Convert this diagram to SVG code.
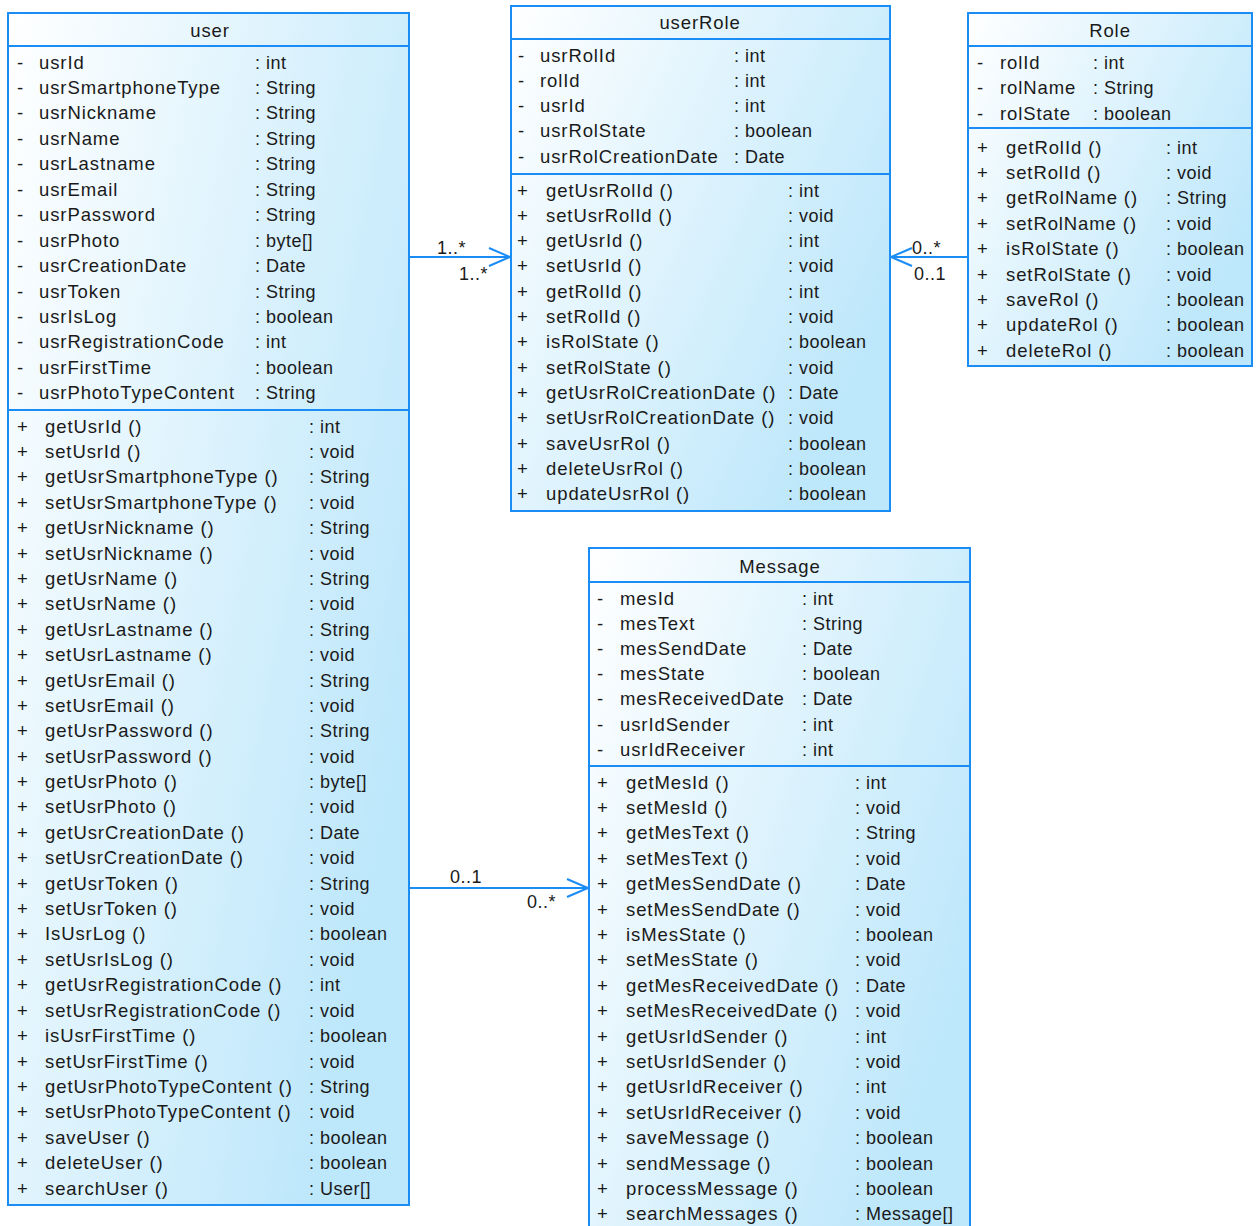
<svg xmlns="http://www.w3.org/2000/svg" width="1257" height="1226" viewBox="0 0 1257 1226">
<style>
.box{fill:url(#g);stroke:#1a8cf5;stroke-width:2}
.sep{stroke:#1a8cf5;stroke-width:2}
.t{font-family:"Liberation Sans",Arial,sans-serif;font-size:18.5px;fill:#1a1a1a;letter-spacing:0.9px}
.y{font-family:"Liberation Sans",Arial,sans-serif;font-size:18px;fill:#1a1a1a;letter-spacing:0.5px}
.h{font-family:"Liberation Sans",Arial,sans-serif;font-size:18.5px;fill:#1a1a1a;letter-spacing:0.9px;text-anchor:middle}
.c{stroke:#1a8cf5;stroke-width:2;fill:none}
</style>
<defs>
<linearGradient id="g" x1="0" y1="0" x2="1" y2="0.6">
<stop offset="0" stop-color="#ffffff"/>
<stop offset="1" stop-color="#bde7fb"/>
</linearGradient>
</defs>
<g id="connectors">
<path class="c" d="M409,257 H510 M489,248 L510,257 L489,266"/>
<text class="y" x="437" y="254">1..*</text>
<text class="y" x="459" y="280">1..*</text>
<path class="c" d="M968,257 H891 M912,248 L891,257 L912,266"/>
<text class="y" x="912" y="254">0..*</text>
<text class="y" x="914" y="280">0..1</text>
<path class="c" d="M409,888 H588 M567,879 L588,888 L567,897"/>
<text class="y" x="450" y="883">0..1</text>
<text class="y" x="527" y="908">0..*</text>
</g>
<g id="user">
<rect class="box" x="8" y="13" width="401" height="1192"/>
<line class="sep" x1="8" y1="46" x2="409" y2="46"/>
<line class="sep" x1="8" y1="410" x2="409" y2="410"/>
<text class="h" x="210" y="36.5">user</text>
<text class="t" y="68.5"><tspan x="17">-</tspan><tspan x="17" dy="25.45">-</tspan><tspan x="17" dy="25.45">-</tspan><tspan x="17" dy="25.45">-</tspan><tspan x="17" dy="25.45">-</tspan><tspan x="17" dy="25.45">-</tspan><tspan x="17" dy="25.45">-</tspan><tspan x="17" dy="25.45">-</tspan><tspan x="17" dy="25.45">-</tspan><tspan x="17" dy="25.45">-</tspan><tspan x="17" dy="25.45">-</tspan><tspan x="17" dy="25.45">-</tspan><tspan x="17" dy="25.45">-</tspan><tspan x="17" dy="25.45">-</tspan></text>
<text class="t" y="68.5"><tspan x="39">usrId</tspan><tspan x="39" dy="25.45">usrSmartphoneType</tspan><tspan x="39" dy="25.45">usrNickname</tspan><tspan x="39" dy="25.45">usrName</tspan><tspan x="39" dy="25.45">usrLastname</tspan><tspan x="39" dy="25.45">usrEmail</tspan><tspan x="39" dy="25.45">usrPassword</tspan><tspan x="39" dy="25.45">usrPhoto</tspan><tspan x="39" dy="25.45">usrCreationDate</tspan><tspan x="39" dy="25.45">usrToken</tspan><tspan x="39" dy="25.45">usrIsLog</tspan><tspan x="39" dy="25.45">usrRegistrationCode</tspan><tspan x="39" dy="25.45">usrFirstTime</tspan><tspan x="39" dy="25.45">usrPhotoTypeContent</tspan></text>
<text class="y" y="68.5"><tspan x="255">: int</tspan><tspan x="255" dy="25.45">: String</tspan><tspan x="255" dy="25.45">: String</tspan><tspan x="255" dy="25.45">: String</tspan><tspan x="255" dy="25.45">: String</tspan><tspan x="255" dy="25.45">: String</tspan><tspan x="255" dy="25.45">: String</tspan><tspan x="255" dy="25.45">: byte[]</tspan><tspan x="255" dy="25.45">: Date</tspan><tspan x="255" dy="25.45">: String</tspan><tspan x="255" dy="25.45">: boolean</tspan><tspan x="255" dy="25.45">: int</tspan><tspan x="255" dy="25.45">: boolean</tspan><tspan x="255" dy="25.45">: String</tspan></text>
<text class="t" y="432.5"><tspan x="17">+</tspan><tspan x="17" dy="25.4">+</tspan><tspan x="17" dy="25.4">+</tspan><tspan x="17" dy="25.4">+</tspan><tspan x="17" dy="25.4">+</tspan><tspan x="17" dy="25.4">+</tspan><tspan x="17" dy="25.4">+</tspan><tspan x="17" dy="25.4">+</tspan><tspan x="17" dy="25.4">+</tspan><tspan x="17" dy="25.4">+</tspan><tspan x="17" dy="25.4">+</tspan><tspan x="17" dy="25.4">+</tspan><tspan x="17" dy="25.4">+</tspan><tspan x="17" dy="25.4">+</tspan><tspan x="17" dy="25.4">+</tspan><tspan x="17" dy="25.4">+</tspan><tspan x="17" dy="25.4">+</tspan><tspan x="17" dy="25.4">+</tspan><tspan x="17" dy="25.4">+</tspan><tspan x="17" dy="25.4">+</tspan><tspan x="17" dy="25.4">+</tspan><tspan x="17" dy="25.4">+</tspan><tspan x="17" dy="25.4">+</tspan><tspan x="17" dy="25.4">+</tspan><tspan x="17" dy="25.4">+</tspan><tspan x="17" dy="25.4">+</tspan><tspan x="17" dy="25.4">+</tspan><tspan x="17" dy="25.4">+</tspan><tspan x="17" dy="25.4">+</tspan><tspan x="17" dy="25.4">+</tspan><tspan x="17" dy="25.4">+</tspan></text>
<text class="t" y="432.5"><tspan x="45">getUsrId ()</tspan><tspan x="45" dy="25.4">setUsrId ()</tspan><tspan x="45" dy="25.4">getUsrSmartphoneType ()</tspan><tspan x="45" dy="25.4">setUsrSmartphoneType ()</tspan><tspan x="45" dy="25.4">getUsrNickname ()</tspan><tspan x="45" dy="25.4">setUsrNickname ()</tspan><tspan x="45" dy="25.4">getUsrName ()</tspan><tspan x="45" dy="25.4">setUsrName ()</tspan><tspan x="45" dy="25.4">getUsrLastname ()</tspan><tspan x="45" dy="25.4">setUsrLastname ()</tspan><tspan x="45" dy="25.4">getUsrEmail ()</tspan><tspan x="45" dy="25.4">setUsrEmail ()</tspan><tspan x="45" dy="25.4">getUsrPassword ()</tspan><tspan x="45" dy="25.4">setUsrPassword ()</tspan><tspan x="45" dy="25.4">getUsrPhoto ()</tspan><tspan x="45" dy="25.4">setUsrPhoto ()</tspan><tspan x="45" dy="25.4">getUsrCreationDate ()</tspan><tspan x="45" dy="25.4">setUsrCreationDate ()</tspan><tspan x="45" dy="25.4">getUsrToken ()</tspan><tspan x="45" dy="25.4">setUsrToken ()</tspan><tspan x="45" dy="25.4">IsUsrLog ()</tspan><tspan x="45" dy="25.4">setUsrIsLog ()</tspan><tspan x="45" dy="25.4">getUsrRegistrationCode ()</tspan><tspan x="45" dy="25.4">setUsrRegistrationCode ()</tspan><tspan x="45" dy="25.4">isUsrFirstTime ()</tspan><tspan x="45" dy="25.4">setUsrFirstTime ()</tspan><tspan x="45" dy="25.4">getUsrPhotoTypeContent ()</tspan><tspan x="45" dy="25.4">setUsrPhotoTypeContent ()</tspan><tspan x="45" dy="25.4">saveUser ()</tspan><tspan x="45" dy="25.4">deleteUser ()</tspan><tspan x="45" dy="25.4">searchUser ()</tspan></text>
<text class="y" y="432.5"><tspan x="309">: int</tspan><tspan x="309" dy="25.4">: void</tspan><tspan x="309" dy="25.4">: String</tspan><tspan x="309" dy="25.4">: void</tspan><tspan x="309" dy="25.4">: String</tspan><tspan x="309" dy="25.4">: void</tspan><tspan x="309" dy="25.4">: String</tspan><tspan x="309" dy="25.4">: void</tspan><tspan x="309" dy="25.4">: String</tspan><tspan x="309" dy="25.4">: void</tspan><tspan x="309" dy="25.4">: String</tspan><tspan x="309" dy="25.4">: void</tspan><tspan x="309" dy="25.4">: String</tspan><tspan x="309" dy="25.4">: void</tspan><tspan x="309" dy="25.4">: byte[]</tspan><tspan x="309" dy="25.4">: void</tspan><tspan x="309" dy="25.4">: Date</tspan><tspan x="309" dy="25.4">: void</tspan><tspan x="309" dy="25.4">: String</tspan><tspan x="309" dy="25.4">: void</tspan><tspan x="309" dy="25.4">: boolean</tspan><tspan x="309" dy="25.4">: void</tspan><tspan x="309" dy="25.4">: int</tspan><tspan x="309" dy="25.4">: void</tspan><tspan x="309" dy="25.4">: boolean</tspan><tspan x="309" dy="25.4">: void</tspan><tspan x="309" dy="25.4">: String</tspan><tspan x="309" dy="25.4">: void</tspan><tspan x="309" dy="25.4">: boolean</tspan><tspan x="309" dy="25.4">: boolean</tspan><tspan x="309" dy="25.4">: User[]</tspan></text>
</g>
<g id="userRole">
<rect class="box" x="511" y="6" width="379" height="505"/>
<line class="sep" x1="511" y1="39" x2="890" y2="39"/>
<line class="sep" x1="511" y1="174" x2="890" y2="174"/>
<text class="h" x="700" y="28.5">userRole</text>
<text class="t" y="61.5"><tspan x="518">-</tspan><tspan x="518" dy="25.25">-</tspan><tspan x="518" dy="25.25">-</tspan><tspan x="518" dy="25.25">-</tspan><tspan x="518" dy="25.25">-</tspan></text>
<text class="t" y="61.5"><tspan x="540">usrRolId</tspan><tspan x="540" dy="25.25">rolId</tspan><tspan x="540" dy="25.25">usrId</tspan><tspan x="540" dy="25.25">usrRolState</tspan><tspan x="540" dy="25.25">usrRolCreationDate</tspan></text>
<text class="y" y="61.5"><tspan x="734">: int</tspan><tspan x="734" dy="25.25">: int</tspan><tspan x="734" dy="25.25">: int</tspan><tspan x="734" dy="25.25">: boolean</tspan><tspan x="734" dy="25.25">: Date</tspan></text>
<text class="t" y="196.5"><tspan x="517">+</tspan><tspan x="517" dy="25.33">+</tspan><tspan x="517" dy="25.33">+</tspan><tspan x="517" dy="25.33">+</tspan><tspan x="517" dy="25.33">+</tspan><tspan x="517" dy="25.33">+</tspan><tspan x="517" dy="25.33">+</tspan><tspan x="517" dy="25.33">+</tspan><tspan x="517" dy="25.33">+</tspan><tspan x="517" dy="25.33">+</tspan><tspan x="517" dy="25.33">+</tspan><tspan x="517" dy="25.33">+</tspan><tspan x="517" dy="25.33">+</tspan></text>
<text class="t" y="196.5"><tspan x="546">getUsrRolId ()</tspan><tspan x="546" dy="25.33">setUsrRolId ()</tspan><tspan x="546" dy="25.33">getUsrId ()</tspan><tspan x="546" dy="25.33">setUsrId ()</tspan><tspan x="546" dy="25.33">getRolId ()</tspan><tspan x="546" dy="25.33">setRolId ()</tspan><tspan x="546" dy="25.33">isRolState ()</tspan><tspan x="546" dy="25.33">setRolState ()</tspan><tspan x="546" dy="25.33">getUsrRolCreationDate ()</tspan><tspan x="546" dy="25.33">setUsrRolCreationDate ()</tspan><tspan x="546" dy="25.33">saveUsrRol ()</tspan><tspan x="546" dy="25.33">deleteUsrRol ()</tspan><tspan x="546" dy="25.33">updateUsrRol ()</tspan></text>
<text class="y" y="196.5"><tspan x="788">: int</tspan><tspan x="788" dy="25.33">: void</tspan><tspan x="788" dy="25.33">: int</tspan><tspan x="788" dy="25.33">: void</tspan><tspan x="788" dy="25.33">: int</tspan><tspan x="788" dy="25.33">: void</tspan><tspan x="788" dy="25.33">: boolean</tspan><tspan x="788" dy="25.33">: void</tspan><tspan x="788" dy="25.33">: Date</tspan><tspan x="788" dy="25.33">: void</tspan><tspan x="788" dy="25.33">: boolean</tspan><tspan x="788" dy="25.33">: boolean</tspan><tspan x="788" dy="25.33">: boolean</tspan></text>
</g>
<g id="Role">
<rect class="box" x="968" y="13" width="284" height="353"/>
<line class="sep" x1="968" y1="46" x2="1252" y2="46"/>
<line class="sep" x1="968" y1="128" x2="1252" y2="128"/>
<text class="h" x="1110" y="36.5">Role</text>
<text class="t" y="68.5"><tspan x="977">-</tspan><tspan x="977" dy="25.5">-</tspan><tspan x="977" dy="25.5">-</tspan></text>
<text class="t" y="68.5"><tspan x="1000">rolId</tspan><tspan x="1000" dy="25.5">rolName</tspan><tspan x="1000" dy="25.5">rolState</tspan></text>
<text class="y" y="68.5"><tspan x="1093">: int</tspan><tspan x="1093" dy="25.5">: String</tspan><tspan x="1093" dy="25.5">: boolean</tspan></text>
<text class="t" y="153.5"><tspan x="977">+</tspan><tspan x="977" dy="25.4">+</tspan><tspan x="977" dy="25.4">+</tspan><tspan x="977" dy="25.4">+</tspan><tspan x="977" dy="25.4">+</tspan><tspan x="977" dy="25.4">+</tspan><tspan x="977" dy="25.4">+</tspan><tspan x="977" dy="25.4">+</tspan><tspan x="977" dy="25.4">+</tspan></text>
<text class="t" y="153.5"><tspan x="1006">getRolId ()</tspan><tspan x="1006" dy="25.4">setRolId ()</tspan><tspan x="1006" dy="25.4">getRolName ()</tspan><tspan x="1006" dy="25.4">setRolName ()</tspan><tspan x="1006" dy="25.4">isRolState ()</tspan><tspan x="1006" dy="25.4">setRolState ()</tspan><tspan x="1006" dy="25.4">saveRol ()</tspan><tspan x="1006" dy="25.4">updateRol ()</tspan><tspan x="1006" dy="25.4">deleteRol ()</tspan></text>
<text class="y" y="153.5"><tspan x="1166">: int</tspan><tspan x="1166" dy="25.4">: void</tspan><tspan x="1166" dy="25.4">: String</tspan><tspan x="1166" dy="25.4">: void</tspan><tspan x="1166" dy="25.4">: boolean</tspan><tspan x="1166" dy="25.4">: void</tspan><tspan x="1166" dy="25.4">: boolean</tspan><tspan x="1166" dy="25.4">: boolean</tspan><tspan x="1166" dy="25.4">: boolean</tspan></text>
</g>
<g id="Message">
<rect class="box" x="589" y="548" width="381" height="700"/>
<line class="sep" x1="589" y1="582" x2="970" y2="582"/>
<line class="sep" x1="589" y1="766" x2="970" y2="766"/>
<text class="h" x="780" y="572.5">Message</text>
<text class="t" y="604.5"><tspan x="597">-</tspan><tspan x="597" dy="25.2">-</tspan><tspan x="597" dy="25.2">-</tspan><tspan x="597" dy="25.2">-</tspan><tspan x="597" dy="25.2">-</tspan><tspan x="597" dy="25.2">-</tspan><tspan x="597" dy="25.2">-</tspan></text>
<text class="t" y="604.5"><tspan x="620">mesId</tspan><tspan x="620" dy="25.2">mesText</tspan><tspan x="620" dy="25.2">mesSendDate</tspan><tspan x="620" dy="25.2">mesState</tspan><tspan x="620" dy="25.2">mesReceivedDate</tspan><tspan x="620" dy="25.2">usrIdSender</tspan><tspan x="620" dy="25.2">usrIdReceiver</tspan></text>
<text class="y" y="604.5"><tspan x="802">: int</tspan><tspan x="802" dy="25.2">: String</tspan><tspan x="802" dy="25.2">: Date</tspan><tspan x="802" dy="25.2">: boolean</tspan><tspan x="802" dy="25.2">: Date</tspan><tspan x="802" dy="25.2">: int</tspan><tspan x="802" dy="25.2">: int</tspan></text>
<text class="t" y="788.5"><tspan x="597">+</tspan><tspan x="597" dy="25.4">+</tspan><tspan x="597" dy="25.4">+</tspan><tspan x="597" dy="25.4">+</tspan><tspan x="597" dy="25.4">+</tspan><tspan x="597" dy="25.4">+</tspan><tspan x="597" dy="25.4">+</tspan><tspan x="597" dy="25.4">+</tspan><tspan x="597" dy="25.4">+</tspan><tspan x="597" dy="25.4">+</tspan><tspan x="597" dy="25.4">+</tspan><tspan x="597" dy="25.4">+</tspan><tspan x="597" dy="25.4">+</tspan><tspan x="597" dy="25.4">+</tspan><tspan x="597" dy="25.4">+</tspan><tspan x="597" dy="25.4">+</tspan><tspan x="597" dy="25.4">+</tspan><tspan x="597" dy="25.4">+</tspan></text>
<text class="t" y="788.5"><tspan x="626">getMesId ()</tspan><tspan x="626" dy="25.4">setMesId ()</tspan><tspan x="626" dy="25.4">getMesText ()</tspan><tspan x="626" dy="25.4">setMesText ()</tspan><tspan x="626" dy="25.4">getMesSendDate ()</tspan><tspan x="626" dy="25.4">setMesSendDate ()</tspan><tspan x="626" dy="25.4">isMesState ()</tspan><tspan x="626" dy="25.4">setMesState ()</tspan><tspan x="626" dy="25.4">getMesReceivedDate ()</tspan><tspan x="626" dy="25.4">setMesReceivedDate ()</tspan><tspan x="626" dy="25.4">getUsrIdSender ()</tspan><tspan x="626" dy="25.4">setUsrIdSender ()</tspan><tspan x="626" dy="25.4">getUsrIdReceiver ()</tspan><tspan x="626" dy="25.4">setUsrIdReceiver ()</tspan><tspan x="626" dy="25.4">saveMessage ()</tspan><tspan x="626" dy="25.4">sendMessage ()</tspan><tspan x="626" dy="25.4">processMessage ()</tspan><tspan x="626" dy="25.4">searchMessages ()</tspan></text>
<text class="y" y="788.5"><tspan x="855">: int</tspan><tspan x="855" dy="25.4">: void</tspan><tspan x="855" dy="25.4">: String</tspan><tspan x="855" dy="25.4">: void</tspan><tspan x="855" dy="25.4">: Date</tspan><tspan x="855" dy="25.4">: void</tspan><tspan x="855" dy="25.4">: boolean</tspan><tspan x="855" dy="25.4">: void</tspan><tspan x="855" dy="25.4">: Date</tspan><tspan x="855" dy="25.4">: void</tspan><tspan x="855" dy="25.4">: int</tspan><tspan x="855" dy="25.4">: void</tspan><tspan x="855" dy="25.4">: int</tspan><tspan x="855" dy="25.4">: void</tspan><tspan x="855" dy="25.4">: boolean</tspan><tspan x="855" dy="25.4">: boolean</tspan><tspan x="855" dy="25.4">: boolean</tspan><tspan x="855" dy="25.4">: Message[]</tspan></text>
</g>
</svg>
